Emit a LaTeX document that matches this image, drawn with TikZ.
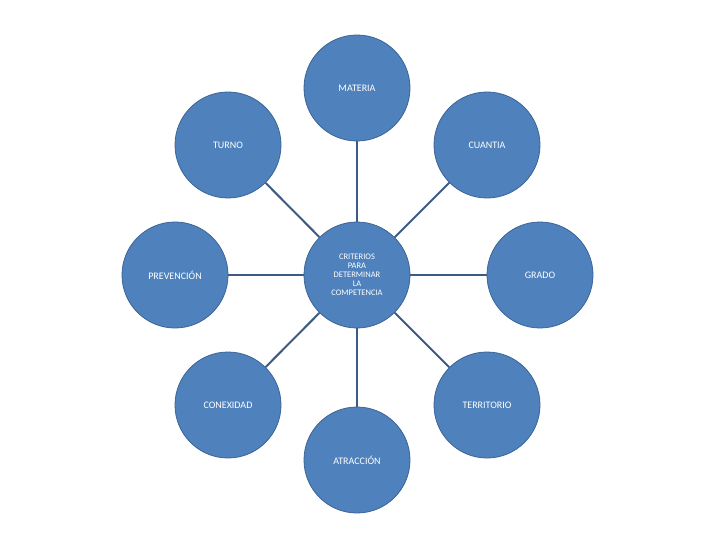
\documentclass[tikz,border=0pt]{standalone}
\usepackage{fontspec}
\setmainfont{Carlito}
\begin{document}
\begin{tikzpicture}[x=1pt,y=-1pt,
  circ/.style={circle,minimum size=106pt,inner sep=0pt,fill={rgb,255:red,79;green,129;blue,189},draw={rgb,255:red,60;green,100;blue,150},line width=0.8pt,text=white,font=\fontsize{10}{11}\selectfont,align=center},
  spoke/.style={draw={rgb,255:red,60;green,90;blue,130},line width=2pt}]
\useasboundingbox (0,0) rectangle (720,540);
\node[circ,font=\fontsize{8.5}{9}\selectfont] (c) at (357,275) {CRITERIOS\\PARA\\DETERMINAR\\LA\\COMPETENCIA};
\node[circ] (m) at (357,88) {MATERIA};
\node[circ] (t) at (228,145) {TURNO};
\node[circ] (cu) at (487,145) {CUANTIA};
\node[circ] (p) at (175,275) {PREVENCIÓN};
\node[circ] (g) at (540,275) {GRADO};
\node[circ] (cx) at (228,405) {CONEXIDAD};
\node[circ] (te) at (487,405) {TERRITORIO};
\node[circ] (a) at (357,460) {ATRACCIÓN};
\foreach \n in {m,t,cu,p,g,cx,te,a} \draw[spoke] (c) -- (\n);
\end{tikzpicture}
\end{document}
